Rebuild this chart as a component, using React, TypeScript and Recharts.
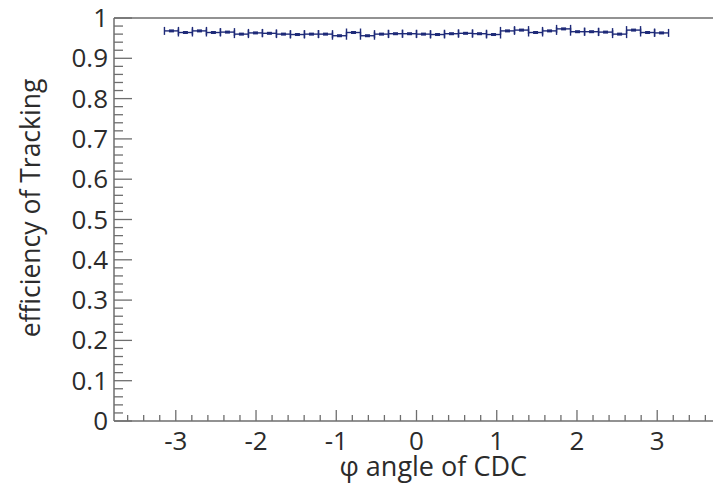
import React from "react"
import {
  ComposedChart,
  Scatter,
  ErrorBar,
  XAxis,
  YAxis,
  ReferenceLine,
  Label,
} from "recharts"

// bin centres (36 bins over -pi..pi)
const binCenters = [
  -3.054, -2.88, -2.705, -2.531, -2.356, -2.182, -2.007, -1.833, -1.658,
  -1.484, -1.309, -1.134, -0.96, -0.785, -0.611, -0.436, -0.262, -0.087,
  0.087, 0.262, 0.436, 0.611, 0.785, 0.96, 1.134, 1.309, 1.484, 1.658,
  1.833, 2.007, 2.182, 2.356, 2.531, 2.705, 2.88, 3.054,
]
const halfBin = 0.0873

const efficiency = [
  0.968, 0.964, 0.968, 0.964, 0.965, 0.96, 0.963, 0.962, 0.96,
  0.959, 0.96, 0.96, 0.956, 0.964, 0.956, 0.96, 0.961, 0.961,
  0.96, 0.959, 0.961, 0.962, 0.961, 0.959, 0.968, 0.97, 0.964, 0.968,
  0.973, 0.966, 0.966, 0.965, 0.96, 0.97, 0.964, 0.963,
]

const xMajor = [-3, -2, -1, 0, 1, 2, 3]
const xTicks = [
  -3.6, -3.4, -3.2, -3, -2.8, -2.6, -2.4, -2.2, -2, -1.8, -1.6, -1.4, -1.2,
  -1, -0.8, -0.6, -0.4, -0.2, 0, 0.2, 0.4, 0.6, 0.8, 1, 1.2, 1.4, 1.6, 1.8,
  2, 2.2, 2.4, 2.6, 2.8, 3, 3.2, 3.4, 3.6,
]
const yMajor = [0, 0.1, 0.2, 0.3, 0.4, 0.5, 0.6, 0.7, 0.8, 0.9, 1]
const yTicks = [
  0, 0.02, 0.04, 0.06, 0.08, 0.1, 0.12, 0.14, 0.16, 0.18, 0.2, 0.22, 0.24,
  0.26, 0.28, 0.3, 0.32, 0.34, 0.36, 0.38, 0.4, 0.42, 0.44, 0.46, 0.48, 0.5,
  0.52, 0.54, 0.56, 0.58, 0.6, 0.62, 0.64, 0.66, 0.68, 0.7, 0.72, 0.74, 0.76,
  0.78, 0.8, 0.82, 0.84, 0.86, 0.88, 0.9, 0.92, 0.94, 0.96, 0.98, 1,
]

const data = binCenters.map((x, i) => ({ x, y: efficiency[i], ex: halfBin }))

const FONT = "'Open Sans', sans-serif"
const AXIS = "#6e6e6e"
const TEXT = "#2b2b2b"
const NAVY = "#1e2a78"

const isMajor = (v: number, majors: number[]) =>
  majors.some((m) => Math.abs(m - v) < 1e-6)

function XTick(props: any) {
  const { x, y, payload } = props
  const major = isMajor(payload.value, xMajor)
  return (
    <g>
      <line x1={x} x2={x} y1={y} y2={y - (major ? 11 : 6)} stroke={AXIS} strokeWidth={1.3} />
      {major && (
        <text x={x} y={y + 29} textAnchor="middle" fontSize={26} fontFamily={FONT} fill={TEXT}>
          {String(payload.value)}
        </text>
      )}
    </g>
  )
}

function YTick(props: any) {
  const { x, y, payload } = props
  const major = isMajor(payload.value, yMajor)
  return (
    <g>
      <line x1={x} x2={x + (major ? 18 : 9)} y1={y} y2={y} stroke={AXIS} strokeWidth={1.3} />
      {major && (
        <text x={x - 6} y={y + 9} textAnchor="end" fontSize={26} fontFamily={FONT} fill={TEXT}>
          {String(payload.value)}
        </text>
      )}
    </g>
  )
}

const Marker = (p: any) => (
  <rect x={p.cx - 2.5} y={p.cy - 1.5} width={5} height={3} fill={NAVY} />
)

export default function App() {
  return (
    <div
      style={{
        position: "fixed",
        left: 0,
        top: 0,
        width: 713,
        height: 485,
        overflow: "hidden",
        background: "#fff",
      }}
    >
      <ComposedChart
        width={730}
        height={485}
        data={data}
        margin={{ top: 18, left: 0, right: 11, bottom: 0 }}
      >
        <XAxis
          dataKey="x"
          type="number"
          domain={[-3.77, 3.77]}
          ticks={xTicks}
          interval={0}
          height={64}
          tickSize={0}
          tickMargin={0}
          tickLine={false}
          tick={<XTick />}
          axisLine={{ stroke: AXIS, strokeWidth: 1.5 }}
          allowDataOverflow
        >
          <Label
            content={() => (
              <text x={527} y={476} textAnchor="end" fontSize={27} fontFamily={FONT} fill={TEXT}>
                φ angle of CDC
              </text>
            )}
          />
        </XAxis>
        <YAxis
          type="number"
          domain={[0, 1]}
          ticks={yTicks}
          interval={0}
          width={114}
          tickSize={0}
          tickMargin={0}
          tickLine={false}
          tick={<YTick />}
          axisLine={{ stroke: AXIS, strokeWidth: 1.5 }}
          allowDataOverflow
        >
          <Label
            content={() => (
              <text
                x={40}
                y={208}
                transform="rotate(-90 40 208)"
                textAnchor="middle"
                fontSize={26.5}
                fontFamily={FONT}
                fill={TEXT}
              >
                efficiency of Tracking
              </text>
            )}
          />
        </YAxis>
        <ReferenceLine y={1} stroke={AXIS} strokeWidth={1.5} />
        <Scatter dataKey="y" shape={<Marker />} isAnimationActive={false}>
          <ErrorBar
            dataKey="ex"
            direction="x"
            width={4}
            stroke={NAVY}
            strokeWidth={1.4}
            isAnimationActive={false}
          />
        </Scatter>
      </ComposedChart>
    </div>
  )
}
